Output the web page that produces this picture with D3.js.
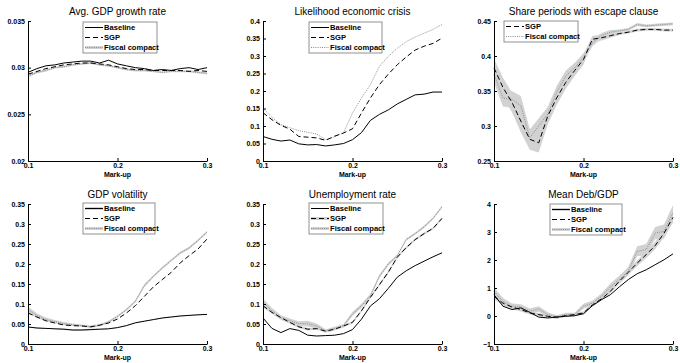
<!DOCTYPE html>
<html lang="en">
<head>
<meta charset="UTF-8">
<title>Mark-up scenarios</title>
<script src="https://d3js.org/d3.v7.min.js"></script>
<style>
    body { margin: 0; background: #fff; }
    svg { display: block; font-family: "Liberation Sans", Arial, sans-serif; }
    g.axis text { font-size: 7px; font-weight: bold; fill: #000; }
    g.axis path, g.axis line { stroke: #000; stroke-width: 1px; }
    .title { font-size: 10px; }
    .xlabel { font-size: 7px; font-weight: bold; }
    .legend text { font-size: 7.6px; font-weight: bold; }
</style>
</head>
<body>
<svg width="680" height="363"></svg>
<script>
// x values (mark-up)
const markup = [0.10,0.11,0.12,0.13,0.14,0.15,0.16,0.17,0.18,0.19,0.20,
                0.21,0.22,0.23,0.24,0.25,0.26,0.27,0.28,0.29,0.30];

// Avg. GDP growth rate
const growthBase   = [0.0295,0.0299,0.0302,0.0303,0.0305,0.0306,0.0307,0.0307,0.0305,0.0308,0.0304,0.0302,0.0300,0.0299,0.0297,0.0298,0.0297,0.0299,0.0300,0.0298,0.0300];
const growthSGP    = [0.0293,0.0296,0.0299,0.0301,0.0303,0.0304,0.0305,0.0305,0.0304,0.0303,0.0301,0.0299,0.0298,0.0298,0.0297,0.0297,0.0297,0.0297,0.0296,0.0297,0.0296];
const growthFiscal = [0.0291,0.0295,0.0297,0.0300,0.0301,0.0303,0.0304,0.0305,0.0303,0.0302,0.0300,0.0298,0.0297,0.0297,0.0296,0.0295,0.0296,0.0296,0.0296,0.0295,0.0294];
const growthFiscalBand = [0.00012,0.00012,0.0001,0.0001,0.0001,0.0001,0.0001,0.0001,0.0001,0.0001,0.0001,0.0001,0.0001,0.0001,0.0001,0.0001,0.0001,0.0001,0.0001,0.00012,0.00012];

// Likelihood economic crisis
const crisisBase   = [0.070,0.062,0.057,0.060,0.049,0.046,0.047,0.043,0.046,0.050,0.061,0.081,0.116,0.133,0.146,0.163,0.176,0.189,0.191,0.197,0.197];
const crisisSGP    = [0.138,0.118,0.102,0.091,0.070,0.068,0.066,0.059,0.071,0.080,0.092,0.137,0.180,0.218,0.248,0.275,0.297,0.317,0.328,0.336,0.351];
const crisisFiscal = [0.150,0.125,0.104,0.095,0.087,0.082,0.077,0.061,0.069,0.081,0.137,0.180,0.218,0.270,0.299,0.322,0.341,0.354,0.365,0.376,0.390];

// Share periods with escape clause
const escapeSGP    = [0.383,0.355,0.334,0.307,0.281,0.276,0.314,0.340,0.362,0.379,0.395,0.424,0.426,0.429,0.432,0.434,0.437,0.438,0.438,0.437,0.437];
const escapeFiscal = [0.374,0.340,0.338,0.329,0.283,0.300,0.317,0.348,0.371,0.383,0.398,0.419,0.429,0.434,0.436,0.438,0.445,0.443,0.444,0.445,0.446];
const escapeSGPBand    = [0.013,0.014,0.014,0.016,0.015,0.014,0.012,0.010,0.009,0.008,0.007,0.005,0.004,0.003,0.002,0.002,0.002,0.002,0.002,0.002,0.002];
const escapeFiscalBand = [0.012,0.012,0.012,0.014,0.012,0.011,0.010,0.009,0.008,0.007,0.006,0.005,0.004,0.003,0.002,0.002,0.002,0.002,0.002,0.002,0.002];

// GDP volatility
const volBase   = [0.0425,0.040,0.039,0.038,0.037,0.035,0.035,0.036,0.037,0.038,0.041,0.046,0.053,0.057,0.061,0.065,0.0675,0.070,0.0715,0.073,0.074];
const volSGP    = [0.0775,0.0675,0.058,0.0525,0.0475,0.046,0.045,0.043,0.047,0.0525,0.0625,0.0775,0.096,0.119,0.1425,0.161,0.179,0.2025,0.221,0.2375,0.2625];
const volFiscal = [0.086,0.071,0.061,0.056,0.051,0.048,0.046,0.043,0.047,0.055,0.069,0.086,0.107,0.146,0.169,0.190,0.209,0.2275,0.240,0.259,0.280];
const volBaseBand   = [0.001,0.001,0.001,0.001,0.002,0.002,0.002,0.002,0.001,0.001,0.001,0.001,0.001,0.001,0.001,0.001,0.001,0.001,0.001,0.001,0.001];
const volFiscalBand = [0.007,0.006,0.005,0.004,0.004,0.003,0.003,0.003,0.003,0.003,0.003,0.003,0.003,0.004,0.003,0.003,0.003,0.003,0.003,0.003,0.003];

// Unemployment rate
const unempBase   = [0.065,0.039,0.0285,0.0385,0.034,0.022,0.020,0.021,0.022,0.026,0.036,0.062,0.095,0.113,0.139,0.167,0.183,0.196,0.207,0.218,0.228];
const unempSGP    = [0.0955,0.079,0.066,0.054,0.043,0.037,0.0385,0.032,0.037,0.045,0.054,0.083,0.1165,0.148,0.1795,0.217,0.241,0.261,0.276,0.289,0.314];
const unempFiscal = [0.104,0.083,0.066,0.058,0.051,0.051,0.045,0.033,0.039,0.046,0.075,0.0955,0.121,0.169,0.200,0.221,0.261,0.276,0.293,0.314,0.343];
const unempSGPBand    = [0.004,0.003,0.003,0.003,0.003,0.003,0.003,0.003,0.003,0.003,0.003,0.003,0.003,0.003,0.003,0.003,0.003,0.003,0.003,0.003,0.003];
const unempFiscalBand = [0.009,0.007,0.006,0.006,0.006,0.007,0.006,0.004,0.004,0.004,0.005,0.005,0.004,0.004,0.004,0.003,0.003,0.003,0.003,0.003,0.003];

// Mean Deb/GDP
const debtBase   = [0.76,0.35,0.23,0.29,0.13,-0.04,-0.07,-0.04,-0.01,0.01,0.08,0.37,0.58,0.76,1.04,1.30,1.51,1.65,1.83,2.01,2.22];
const debtSGP    = [0.70,0.46,0.32,0.23,0.11,0.05,-0.01,-0.04,0.01,0.05,0.11,0.40,0.61,0.88,1.24,1.56,1.89,2.19,2.51,2.96,3.52];
const debtFiscal = [0.88,0.52,0.35,0.32,0.17,0.25,0.05,-0.04,0.05,0.05,0.35,0.46,0.70,1.04,1.30,1.60,2.31,2.37,2.96,3.02,3.68];
const debtSGPBand    = [0.10,0.08,0.07,0.07,0.06,0.06,0.05,0.05,0.05,0.05,0.05,0.06,0.06,0.07,0.08,0.09,0.10,0.12,0.13,0.15,0.18];
const debtFiscalBand = [0.14,0.12,0.10,0.10,0.10,0.10,0.08,0.07,0.07,0.07,0.09,0.09,0.10,0.12,0.14,0.15,0.18,0.20,0.22,0.25,0.28];

const xTicks = [0.1, 0.2, 0.3];

const svg = d3.select('svg');
const W = 179, H = 140;

const STYLE = {
    Baseline: {color: '#000', dash: null},
    SGP: {color: '#000', dash: '5,3'},
    'Fiscal compact': {color: '#8c8c8c', dash: '1,1.2'}
};
const BAND = '#d2d2d2';

// panel configs (layout + which arrays to use)
const panels = [
    {title: 'Avg. GDP growth rate', left: 28, top: 21, yDomain: [0.02, 0.035],
     yTicks: [0.02, 0.025, 0.03, 0.035], fmt: d3.format('~g'),
     series: [['Fiscal compact', growthFiscal, growthFiscalBand], ['SGP', growthSGP], ['Baseline', growthBase]],
     legend: {x: 83, y: 22, w: 74, names: ['Baseline', 'SGP', 'Fiscal compact'], shade: ['Fiscal compact']}},
    {title: 'Likelihood economic crisis', left: 263, top: 21, yDomain: [0, 0.4],
     yTicks: [0, 0.05, 0.1, 0.15, 0.2, 0.25, 0.3, 0.35, 0.4], fmt: d3.format('~g'),
     series: [['Fiscal compact', crisisFiscal], ['SGP', crisisSGP], ['Baseline', crisisBase]],
     legend: {x: 309, y: 22, w: 73, names: ['Baseline', 'SGP', 'Fiscal compact'], shade: []}},
    {title: 'Share periods with escape clause', left: 494, top: 21, yDomain: [0.25, 0.45],
     yTicks: [0.25, 0.3, 0.35, 0.4, 0.45], fmt: d3.format('~g'),
     series: [['Fiscal compact', escapeFiscal, escapeFiscalBand], ['SGP', escapeSGP, escapeSGPBand]],
     legend: {x: 504, y: 21, w: 74, names: ['SGP', 'Fiscal compact'], shade: []}},
    {title: 'GDP volatility', left: 28, top: 204, yDomain: [0, 0.35],
     yTicks: [0, 0.05, 0.1, 0.15, 0.2, 0.25, 0.3, 0.35], fmt: d3.format('~g'),
     series: [['Fiscal compact', volFiscal, volFiscalBand], ['SGP', volSGP], ['Baseline', volBase, volBaseBand]],
     legend: {x: 83, y: 203, w: 72, names: ['Baseline', 'SGP', 'Fiscal compact'], shade: ['Baseline', 'Fiscal compact']}},
    {title: 'Unemployment rate', left: 263, top: 204, yDomain: [0, 0.35],
     yTicks: [0, 0.05, 0.1, 0.15, 0.2, 0.25, 0.3, 0.35], fmt: d3.format('~g'),
     series: [['Fiscal compact', unempFiscal, unempFiscalBand], ['SGP', unempSGP, unempSGPBand], ['Baseline', unempBase]],
     legend: {x: 309, y: 203, w: 74, names: ['Baseline', 'SGP', 'Fiscal compact'], shade: ['SGP', 'Fiscal compact']}},
    {title: 'Mean Deb/GDP', left: 494, top: 204, yDomain: [-1, 4],
     yTicks: [-1, 0, 1, 2, 3, 4], fmt: d3.format('d'),
     series: [['Fiscal compact', debtFiscal, debtFiscalBand], ['SGP', debtSGP, debtSGPBand], ['Baseline', debtBase]],
     legend: {x: 550, y: 204, w: 72, names: ['Baseline', 'SGP', 'Fiscal compact'], shade: ['Baseline', 'Fiscal compact']}}
];

panels.forEach(p => {
    const g = svg.append('g').attr('transform', `translate(${p.left},${p.top})`);
    const x = d3.scaleLinear().domain([0.1, 0.3]).range([0, W]);
    const y = d3.scaleLinear().domain(p.yDomain).range([H, 0]);

    // confidence bands first
    p.series.forEach(([name, vals, band]) => {
        if (!band) return;
        const area = d3.area()
            .x((d, i) => x(markup[i]))
            .y0((d, i) => y(d - band[i]))
            .y1((d, i) => y(d + band[i]));
        g.append('path').attr('d', area(vals)).attr('fill', BAND);
    });

    const line = d3.line().x((d, i) => x(markup[i])).y(d => y(d));
    p.series.forEach(([name, vals]) => {
        const s = STYLE[name];
        g.append('path')
            .attr('d', line(vals))
            .attr('fill', 'none')
            .attr('stroke', s.color)
            .attr('stroke-width', 1)
            .attr('stroke-dasharray', s.dash);
    });

    // axes, ticks pointing inward
    g.append('g').attr('class', 'axis')
        .call(d3.axisLeft(y).tickValues(p.yTicks).tickFormat(p.fmt)
            .tickSizeInner(-3).tickSizeOuter(0).tickPadding(3));
    g.append('g').attr('class', 'axis')
        .attr('transform', `translate(0,${H})`)
        .call(d3.axisBottom(x).tickValues(xTicks).tickFormat(d3.format('.1f'))
            .tickSizeInner(-3).tickSizeOuter(0).tickPadding(2));

    g.append('text').attr('class', 'title')
        .attr('x', W / 2).attr('y', -6).attr('text-anchor', 'middle').text(p.title);
    g.append('text').attr('class', 'xlabel')
        .attr('x', W / 2).attr('y', H + 16).attr('text-anchor', 'middle').text('Mark-up');

    // legend
    const L = p.legend;
    const lg = svg.append('g').attr('class', 'legend').attr('transform', `translate(${L.x},${L.y})`);
    lg.append('rect').attr('width', L.w).attr('height', L.names.length * 10 + 1)
        .attr('fill', '#fff').attr('stroke', '#777').attr('stroke-width', 0.8);
    L.names.forEach((name, i) => {
        const s = STYLE[name];
        const yy = 5.5 + i * 10;
        if (L.shade.includes(name)) {
            lg.append('line').attr('x1', 2).attr('x2', 20).attr('y1', yy).attr('y2', yy)
                .attr('stroke', BAND).attr('stroke-width', 3);
        }
        lg.append('line').attr('x1', 2).attr('x2', 20).attr('y1', yy).attr('y2', yy)
            .attr('stroke', s.color).attr('stroke-width', 1).attr('stroke-dasharray', s.dash);
        lg.append('text').attr('x', 21).attr('y', yy + 2.7).text(name);
    });
});
</script>
</body>
</html>
